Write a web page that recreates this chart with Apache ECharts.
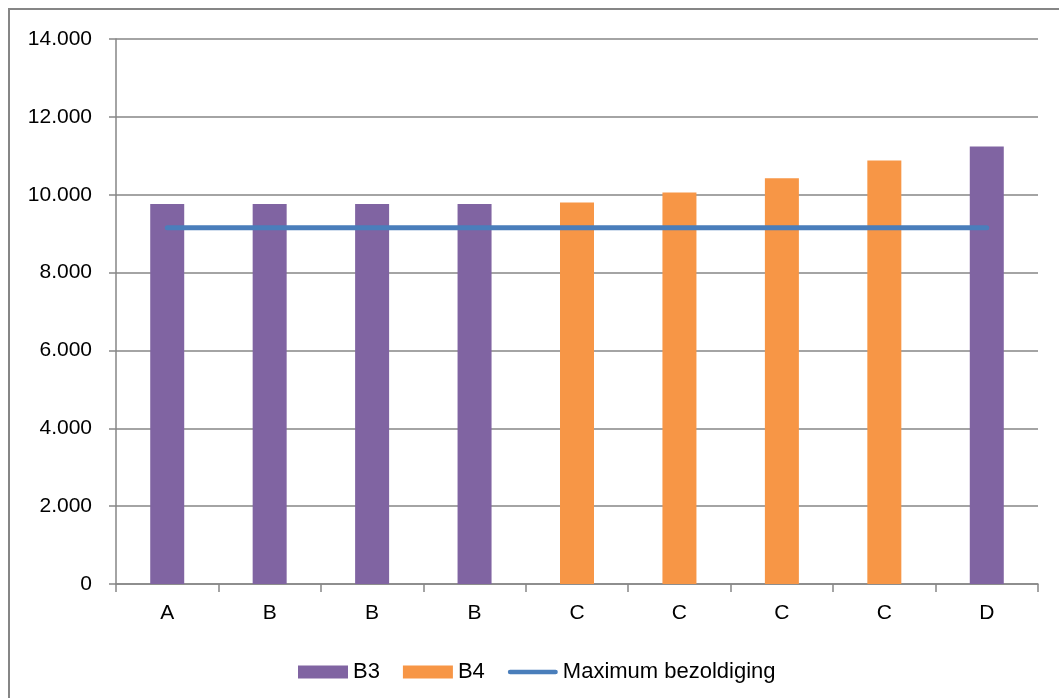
<!DOCTYPE html>
<html>
<head>
<meta charset="utf-8">
<script src="https://cdn.jsdelivr.net/npm/echarts@6/dist/echarts.min.js"></script>
<style>
html,body{margin:0;padding:0;background:#fff;}
#c{width:1059px;height:698px;}
</style>
</head>
<body>
<div id="c"></div>
<script>
var categories = ['A','B','B','B','C','C','C','C','D'];
var b3Values = [9760, 9760, 9760, 9760, null, null, null, null, 11240];
var b4Values = [null, null, null, null, 9800, 10060, 10420, 10880, null];
var maxValues = [9150, 9150, 9150, 9150, 9150, 9150, 9150, 9150, 9150];
var yTicks = [0, 2000, 4000, 6000, 8000, 10000, 12000, 14000];

var FONT = '"Liberation Sans", Arial, sans-serif';
var GRAY = '#868686';

function fmt(v){
  return String(v).replace(/\B(?=(\d{3})+(?!\d))/g, '.');
}

var chart = echarts.init(document.getElementById('c'));
chart.setOption({
  animation: false,
  backgroundColor: '#ffffff',
  textStyle: {fontFamily: FONT},
  graphic: [{
    type: 'rect',
    shape: {x: 9, y: 9, width: 1060, height: 720},
    style: {fill: 'none', stroke: GRAY, lineWidth: 2},
    silent: true,
    z: -10
  }],
  grid: {left: 116, right: 21, top: 39, bottom: 114, containLabel: false},
  legend: {
    left: 293,
    top: 656,
    itemWidth: 50,
    itemHeight: 13,
    itemGap: 23,
    textStyle: {fontFamily: FONT, fontSize: 22, color: '#000'},
    data: [
      {name: 'B3', icon: 'rect'},
      {name: 'B4', icon: 'rect'},
      {name: 'Maximum bezoldiging', icon: 'path://M2.5,0 H52.5 A2.5,2.5 0 0 1 52.5,5 H2.5 A2.5,2.5 0 0 1 2.5,0 Z'}
    ]
  },
  xAxis: {
    type: 'category',
    data: categories,
    boundaryGap: true,
    axisLine: {show: true, lineStyle: {color: GRAY, width: 1.5}},
    axisTick: {show: true, length: 8, lineStyle: {color: GRAY, width: 1.5}},
    axisLabel: {color: '#000', fontSize: 21, fontFamily: FONT, margin: 19, interval: 0},
    splitLine: {show: false}
  },
  yAxis: {
    type: 'value',
    min: yTicks[0],
    max: yTicks[yTicks.length - 1],
    interval: 2000,
    axisLine: {show: true, lineStyle: {color: GRAY, width: 1.5}},
    axisTick: {show: true, length: 7, lineStyle: {color: GRAY, width: 1.5}},
    axisLabel: {color: '#000', fontSize: 21, fontFamily: FONT, margin: 24, formatter: fmt},
    splitLine: {show: true, lineStyle: {color: GRAY, width: 1.5}}
  },
  series: [
    {
      name: 'B3', type: 'bar', stack: 's', data: b3Values,
      barWidth: 34,
      itemStyle: {color: '#8064A2'}
    },
    {
      name: 'B4', type: 'bar', stack: 's', data: b4Values,
      barWidth: 34,
      itemStyle: {color: '#F79646'}
    },
    {
      name: 'Maximum bezoldiging', type: 'line', data: maxValues,
      symbol: 'none', showSymbol: false,
      lineStyle: {color: '#4A7EBB', width: 5, cap: 'round'},
      itemStyle: {color: '#4A7EBB'},
      z: 5
    }
  ]
});
</script>
</body>
</html>
